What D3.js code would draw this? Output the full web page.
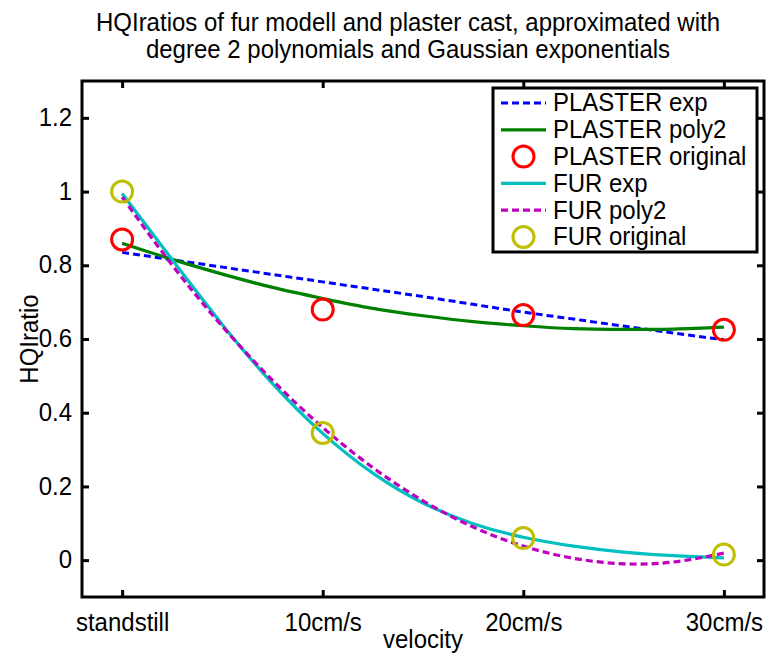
<!DOCTYPE html>
<html>
<head>
<meta charset="utf-8">
<script src="https://cdn.jsdelivr.net/npm/d3@7"></script>
<style>
  html, body { margin: 0; padding: 0; background: #fff; }
  svg { display: block; }
  text { font-family: "Liberation Sans", Arial, sans-serif; fill: #000; }
</style>
</head>
<body>
<svg id="chart" width="767" height="655"></svg>
<script>
// ---------- data ----------
const categories = ["standstill", "10cm/s", "20cm/s", "30cm/s"];
const yTicks = [0, 0.2, 0.4, 0.6, 0.8, 1, 1.2];
const yTickLabels = ["0", "0.2", "0.4", "0.6", "0.8", "1", "1.2"];

const plasterOriginal = [0.87, 0.68, 0.665, 0.625];
const furOriginal = [1.0, 0.345, 0.06, 0.015];

// fitted curves, sampled at x = 0, 0.25, ..., 3 (category index units)
const curveX = [0, 0.25, 0.5, 0.75, 1, 1.25, 1.5, 1.75, 2, 2.25, 2.5, 2.75, 3];
const plasterExp   = [0.835, 0.815, 0.795, 0.775, 0.755, 0.735, 0.715, 0.694, 0.673, 0.654, 0.635, 0.616, 0.598];
const plasterPoly2 = [0.86, 0.816, 0.776, 0.74, 0.71, 0.683, 0.663, 0.647, 0.636, 0.628, 0.626, 0.627, 0.632];
const furExp       = [0.995, 0.815, 0.639, 0.479, 0.344, 0.236, 0.155, 0.099, 0.062, 0.038, 0.022, 0.012, 0.006];
const furPoly2     = [0.985, 0.8, 0.634, 0.488, 0.36, 0.251, 0.161, 0.09, 0.038, 0.005, -0.01, -0.005, 0.019];

const titleLines = ["HQIratios of fur modell and plaster cast, approximated with",
                    "degree 2 polynomials and Gaussian exponentials"];

// ---------- layout ----------
const svg = d3.select("#chart");
const L = 82, R = 764, T = 81, B = 597;
const FS = 24;
const K = 1.1; // vertical stretch of glyphs

const x = d3.scaleLinear().domain([-0.2, 3.2]).range([L, R]);
const y = d3.scaleLinear().domain([-0.1, 1.3]).range([B, T]);

// title
svg.append("g").selectAll("text").data(titleLines).join("text")
  .attr("x", 408).attr("y", (d, i) => 31 + i * 27)
  .attr("text-anchor", "middle").attr("font-size", FS)
  .text(d => d);

// clip
svg.append("clipPath").attr("id", "clip").append("rect")
  .attr("x", L).attr("y", T).attr("width", R - L).attr("height", B - T);

const plot = svg.append("g").attr("clip-path", "url(#clip)");

const line = d3.line()
  .x((d, i) => x(curveX[i]))
  .y(d => y(d))
  .curve(d3.curveNatural);

const series = [
  { name: "PLASTER exp",   data: plasterExp,   color: "#0000ff", dash: "7,4", width: 3 },
  { name: "PLASTER poly2", data: plasterPoly2, color: "#008000", dash: null,  width: 3.2 },
  { name: "FUR exp",       data: furExp,       color: "#00bfbf", dash: null,  width: 3.2 },
  { name: "FUR poly2",     data: furPoly2,     color: "#bf00bf", dash: "7,4", width: 3.2 }
];

series.forEach(s => {
  plot.append("path").datum(s.data)
    .attr("d", line)
    .attr("fill", "none")
    .attr("stroke", s.color)
    .attr("stroke-width", s.width)
    .attr("stroke-dasharray", s.dash);
});

// markers
const markers = [
  { name: "PLASTER original", data: plasterOriginal, color: "#ff0000" },
  { name: "FUR original",     data: furOriginal,     color: "#bfbf00" }
];
markers.forEach(m => {
  plot.append("g").selectAll("circle").data(m.data).join("circle")
    .attr("cx", (d, i) => x(i)).attr("cy", d => y(d))
    .attr("r", 10.5)
    .attr("fill", "none").attr("stroke", m.color).attr("stroke-width", 3);
});

// axes box with inward ticks on all sides
const tickLen = 7;
svg.append("rect").attr("x", L).attr("y", T).attr("width", R - L).attr("height", B - T)
  .attr("fill", "none").attr("stroke", "#000").attr("stroke-width", 3);

const xAxisB = d3.axisBottom(x).tickValues(d3.range(categories.length))
  .tickFormat(i => categories[i]).tickSizeInner(-tickLen).tickSizeOuter(0).tickPadding(17);
const gxb = svg.append("g").attr("transform", `translate(0,${B})`).call(xAxisB);
const xAxisT = d3.axisTop(x).tickValues(d3.range(categories.length))
  .tickFormat("").tickSizeInner(-tickLen).tickSizeOuter(0);
const gxt = svg.append("g").attr("transform", `translate(0,${T})`).call(xAxisT);

const yAxisL = d3.axisLeft(y).tickValues(yTicks)
  .tickFormat((d, i) => yTickLabels[i]).tickSizeInner(-tickLen).tickSizeOuter(0).tickPadding(10);
const gyl = svg.append("g").attr("transform", `translate(${L},0)`).call(yAxisL);
const yAxisR = d3.axisRight(y).tickValues(yTicks)
  .tickFormat("").tickSizeInner(-tickLen).tickSizeOuter(0);
const gyr = svg.append("g").attr("transform", `translate(${R},0)`).call(yAxisR);

[gxb, gxt, gyl, gyr].forEach(g => {
  g.select(".domain").remove();
  g.selectAll(".tick line").attr("stroke", "#000").attr("stroke-width", 3);
  g.selectAll(".tick text").attr("font-size", FS).attr("font-family", "Liberation Sans, Arial, sans-serif").attr("fill", "#000");
});

// axis labels
svg.append("text").attr("x", (L + R) / 2).attr("y", 648)
  .attr("text-anchor", "middle").attr("font-size", FS).text("velocity");
svg.append("text").attr("class", "rot")
  .attr("transform", `translate(38,${(T + B) / 2}) rotate(-90) scale(1,${K})`)
  .attr("text-anchor", "middle").attr("font-size", FS).text("HQIratio");

// legend
const legX = 493, legY = 88, legW = 264, legH = 164;
const lg = svg.append("g");
lg.append("rect").attr("x", legX).attr("y", legY).attr("width", legW).attr("height", legH)
  .attr("fill", "#fff").attr("stroke", "#000").attr("stroke-width", 3);

const legendItems = [
  { label: "PLASTER exp",      type: "line",   color: "#0000ff", dash: "7,4" },
  { label: "PLASTER poly2",    type: "line",   color: "#008000", dash: null },
  { label: "PLASTER original", type: "marker", color: "#ff0000" },
  { label: "FUR exp",          type: "line",   color: "#00bfbf", dash: null },
  { label: "FUR poly2",        type: "line",   color: "#bf00bf", dash: "7,4" },
  { label: "FUR original",     type: "marker", color: "#bfbf00" }
];
const rowH = 26.8, row0 = legY + 15;
legendItems.forEach((it, i) => {
  const cy = row0 + i * rowH;
  if (it.type === "line") {
    lg.append("line").attr("x1", 501).attr("x2", 546).attr("y1", cy).attr("y2", cy)
      .attr("stroke", it.color).attr("stroke-width", 3.2).attr("stroke-dasharray", it.dash);
  } else {
    lg.append("circle").attr("cx", 523.5).attr("cy", cy).attr("r", 10.5)
      .attr("fill", "none").attr("stroke", it.color).attr("stroke-width", 3);
  }
  lg.append("text").attr("x", 553).attr("y", cy + 8.5)
    .attr("font-size", FS).text(it.label);
});

// stretch glyphs vertically around their own baseline (except the rotated label)
svg.selectAll("text").filter(function () { return !this.classList.contains("rot"); })
  .each(function () {
    const t = d3.select(this);
    const ty = +(t.attr("y") || 0);
    let dyPx = 0;
    const dy = t.attr("dy");
    if (dy) dyPx = dy.endsWith("em") ? parseFloat(dy) * FS : parseFloat(dy);
    const base = ty + dyPx;
    t.attr("transform", `translate(0,${base}) scale(1,${K}) translate(0,${-base})`);
  });
</script>
</body>
</html>
